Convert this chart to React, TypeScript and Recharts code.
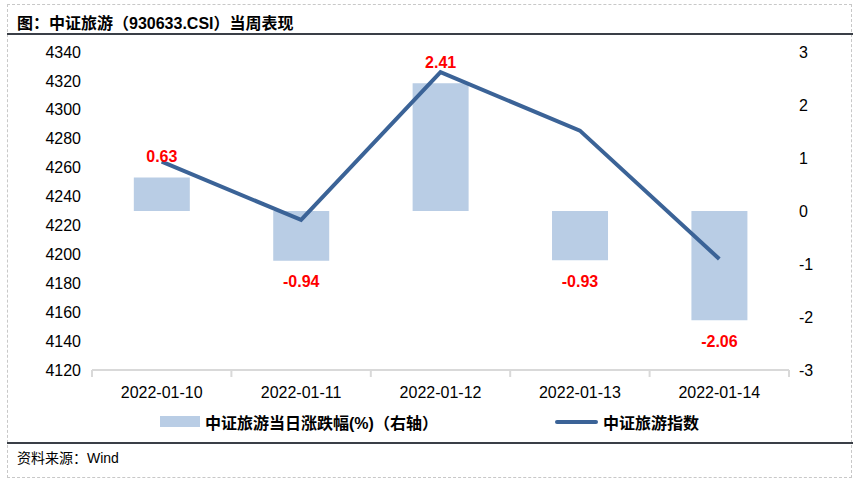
import { Bar, ComposedChart, LabelList, Line, XAxis, YAxis } from "recharts";

const dates = ["2022-01-10", "2022-01-11", "2022-01-12", "2022-01-13", "2022-01-14"];
const indexClose = [4264.1, 4223.8, 4326.0, 4285.6, 4196.8];
const dailyChange = [0.63, -0.94, 2.41, -0.93, -2.06];
const leftTicks = [4120, 4140, 4160, 4180, 4200, 4220, 4240, 4260, 4280, 4300, 4320, 4340];
const rightTicks = [-3, -2, -1, 0, 1, 2, 3];

const FONT = '"Liberation Sans", Arial, "Noto Sans CJK SC", sans-serif';
const BAR_COLOR = "#b9cde5";
const LINE_COLOR = "#3b6397";
const PLOT_LEFT = 92;
const PLOT_RIGHT = 789;
const CAT_W = (PLOT_RIGHT - PLOT_LEFT) / dates.length;

const chartData = dates.map((d, i) => ({
	date: d,
	close: indexClose[i],
	change: dailyChange[i],
}));

function XTick(props: any) {
	const { x, y, payload, index } = props;
	const half = CAT_W / 2;
	return (
		<g>
			<line x1={x - half} x2={x - half} y1={y - 8} y2={y - 1} stroke="#d9d9d9" strokeWidth={2} />
			{index === dates.length - 1 && (
				<line x1={x + half} x2={x + half} y1={y - 8} y2={y - 1} stroke="#d9d9d9" strokeWidth={2} />
			)}
			<text x={x} y={y + 20} textAnchor="middle" fontSize={16} fill="#000" fontFamily={FONT}>
				{payload.value}
			</text>
		</g>
	);
}

function ChangeLabel(props: any) {
	const { x, y, width, height, value } = props;
	const top = Math.min(y, y + height);
	const bottom = Math.max(y, y + height);
	const cy = value >= 0 ? top - 21 : bottom + 21;
	return (
		<text
			x={x + width / 2}
			y={cy}
			textAnchor="middle"
			dominantBaseline="central"
			fontSize={16}
			fontWeight="bold"
			fill="#ff0000"
			fontFamily={FONT}
		>
			{value.toFixed(2)}
		</text>
	);
}

export default function App() {
	return (
		<div
			style={{
				position: "fixed",
				left: 0,
				top: 0,
				width: 859,
				height: 480,
				background: "#fff",
				fontFamily: FONT,
			}}
		>
			<div
				style={{
					position: "absolute",
					left: 7,
					top: 4,
					width: 845,
					height: 474,
					border: "1px dashed #c8c8c8",
					boxSizing: "border-box",
				}}
			/>
			<div
				style={{
					position: "absolute",
					left: 17,
					top: 10,
					fontSize: 16,
					fontWeight: "bold",
					color: "#000",
					whiteSpace: "nowrap",
				}}
			>
				图：中证旅游（930633.CSI）当周表现
			</div>
			<div style={{ position: "absolute", left: 7, top: 33, width: 846, height: 2, background: "#3a3f47" }} />
			<div style={{ position: "absolute", left: 7, top: 442, width: 846, height: 2, background: "#3a3f47" }} />
			<div style={{ position: "absolute", left: 17, top: 447, fontSize: 14, color: "#000", whiteSpace: "nowrap" }}>
				资料来源：Wind
			</div>

			<div style={{ position: "absolute", left: 0, top: 0 }}>
				<ComposedChart
					width={859}
					height={480}
					data={chartData}
					margin={{ top: 52, right: 10, left: 12, bottom: 80 }}
					barCategoryGap="30%"
				>
					<XAxis
						dataKey="date"
						height={30}
						axisLine={{ stroke: "#d9d9d9", strokeWidth: 2 }}
						tickLine={false}
						tick={<XTick />}
						interval={0}
					/>
					<YAxis
						yAxisId="left"
						orientation="left"
						width={80}
						domain={[4120, 4340]}
						ticks={leftTicks}
						axisLine={false}
						tickLine={false}
						tickSize={6}
						tickMargin={5}
						interval={0}
						tick={{ fontSize: 16, fill: "#000", fontFamily: FONT }}
					/>
					<YAxis
						yAxisId="right"
						orientation="right"
						width={60}
						domain={[-3, 3]}
						ticks={rightTicks}
						axisLine={false}
						tickLine={false}
						tickSize={6}
						tickMargin={4}
						interval={0}
						tick={{ fontSize: 16, fill: "#000", fontFamily: FONT, textAnchor: "start" }}
					/>
					<Bar yAxisId="right" dataKey="change" fill={BAR_COLOR} isAnimationActive={false}>
						<LabelList dataKey="change" content={<ChangeLabel />} />
					</Bar>
					<Line
						yAxisId="left"
						dataKey="close"
						type="linear"
						stroke={LINE_COLOR}
						strokeWidth={4}
						dot={false}
						activeDot={false}
						isAnimationActive={false}
					/>
				</ComposedChart>
			</div>

			<div style={{ position: "absolute", left: 160, top: 416, width: 40, height: 11, background: BAR_COLOR }} />
			<div
				style={{ position: "absolute", left: 205, top: 410, fontSize: 16, fontWeight: "bold", whiteSpace: "nowrap" }}
			>
				中证旅游当日涨跌幅(%)（右轴）
			</div>
			<div
				style={{ position: "absolute", left: 555, top: 420, width: 43, height: 4, background: LINE_COLOR, borderRadius: 2 }}
			/>
			<div
				style={{ position: "absolute", left: 603, top: 410, fontSize: 16, fontWeight: "bold", whiteSpace: "nowrap" }}
			>
				中证旅游指数
			</div>
		</div>
	);
}
